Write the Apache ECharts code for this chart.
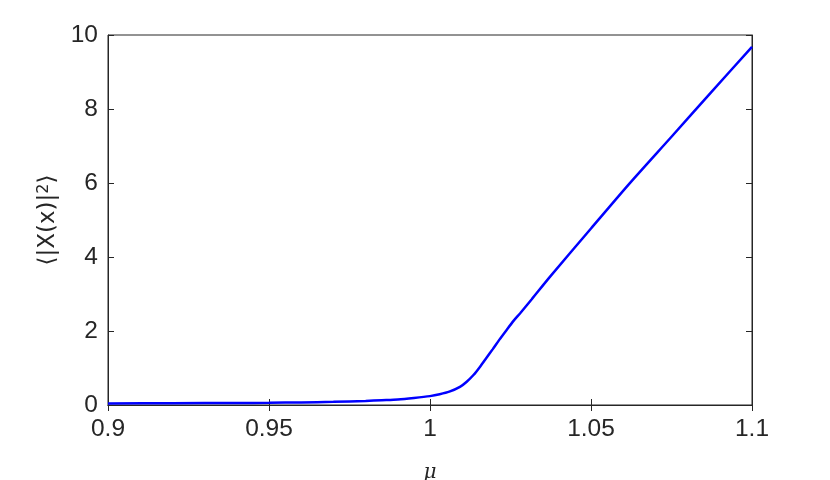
<!DOCTYPE html>
<html>
<head>
<meta charset="utf-8">
<script src="https://cdn.jsdelivr.net/npm/echarts@6/dist/echarts.min.js"></script>
<style>html,body{margin:0;padding:0;background:#fff}#c{width:830px;height:480px}</style>
</head>
<body>
<div id="c"></div>
<script>
var muValues = [0.90, 0.92, 0.94, 0.95, 0.96, 0.97, 0.98, 0.985, 0.99, 0.995, 1.000, 1.003, 1.006, 1.0093, 1.0114, 1.0135, 1.0155, 1.0175, 1.0195, 1.0215, 1.0238, 1.026, 1.028, 1.0316, 1.0373, 1.05, 1.062, 1.075, 1.0875, 1.1];
var xSquared = [0.04, 0.05, 0.055, 0.06, 0.07, 0.085, 0.11, 0.13, 0.15, 0.19, 0.24, 0.29, 0.36, 0.49, 0.63, 0.81, 1.03, 1.27, 1.51, 1.76, 2.03, 2.28, 2.48, 2.86, 3.47, 4.77, 5.99, 7.25, 8.47, 9.68];
var xTicks = [0.9, 0.95, 1, 1.05, 1.1];
var yTicks = [0, 2, 4, 6, 8, 10];

var axisColor = '#262626';
var font = 'Liberation Sans, Arial, Helvetica, sans-serif';
var data = muValues.map(function (m, i) { return [m, xSquared[i]]; });

var chart = echarts.init(document.getElementById('c'), null, {renderer: 'canvas'});
chart.setOption({
  animation: false,
  backgroundColor: '#fff',
  grid: {left: 108, right: 78, top: 35, bottom: 75, show: true, borderColor: axisColor, borderWidth: 1,
    containLabel: false, outerBoundsMode: 'none'},
  xAxis: [{
    type: 'value', min: 0.9, max: 1.1, interval: 0.05, position: 'bottom',
    name: 'μ', nameLocation: 'middle', nameGap: 58,
    nameTextStyle: {fontFamily: 'DejaVu Serif, serif', fontStyle: 'italic', fontSize: 20, color: axisColor},
    axisLine: {show: true, lineStyle: {color: axisColor}},
    axisTick: {show: true, inside: true, length: 6, lineStyle: {color: axisColor}},
    axisLabel: {fontFamily: font, fontSize: 24.5, color: axisColor, margin: 12,
      formatter: function (v) { var m = xTicks.filter(function (t) { return Math.abs(t - v) < 1e-9; }); return m.length ? String(m[0]) : ''; }},
    splitLine: {show: false}
  }, {
    type: 'value', min: 0.9, max: 1.1, interval: 0.05, position: 'top',
    axisLine: {show: true, lineStyle: {color: axisColor}},
    axisTick: {show: true, inside: true, length: 6, lineStyle: {color: axisColor}},
    axisLabel: {show: false}, splitLine: {show: false}
  }],
  yAxis: [{
    type: 'value', min: 0, max: 10, interval: 2, position: 'left',
    name: '{a|⟨|X(x)|}{s|2}{a|⟩}', nameLocation: 'middle', nameGap: 45, nameRotate: 90,
    nameTextStyle: {color: axisColor, rich: {
      a: {fontFamily: 'DejaVu Sans, sans-serif', fontSize: 23, color: axisColor},
      s: {fontFamily: 'DejaVu Sans, sans-serif', fontSize: 16, color: axisColor, verticalAlign: 'top', padding: [0, 0, 10, 0]}
    }},
    axisLine: {show: true, lineStyle: {color: axisColor}},
    axisTick: {show: true, inside: true, length: 6, lineStyle: {color: axisColor}},
    axisLabel: {fontFamily: font, fontSize: 24.5, color: axisColor, margin: 10,
      formatter: function (v) { return yTicks.indexOf(v) >= 0 ? String(v) : ''; }},
    splitLine: {show: false}
  }, {
    type: 'value', min: 0, max: 10, interval: 2, position: 'right',
    axisLine: {show: true, lineStyle: {color: axisColor}},
    axisTick: {show: true, inside: true, length: 6, lineStyle: {color: axisColor}},
    axisLabel: {show: false}, splitLine: {show: false}
  }],
  series: [{
    type: 'line', data: data, xAxisIndex: 0, yAxisIndex: 0,
    showSymbol: false, smooth: 0.25,
    lineStyle: {color: '#0000ff', width: 2.5}
  }]
});
</script>
</body>
</html>
